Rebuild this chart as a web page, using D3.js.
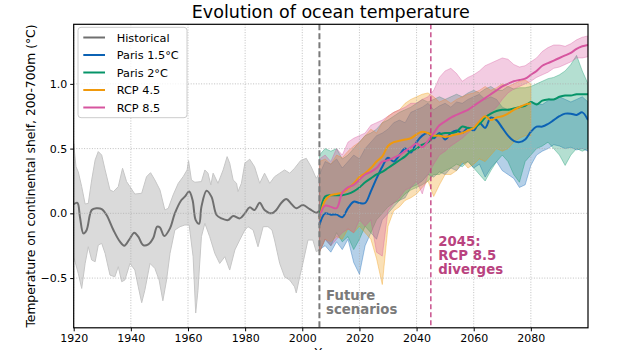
<!DOCTYPE html>
<html>
<head>
<meta charset="utf-8">
<script src="https://cdn.jsdelivr.net/npm/d3@7"></script>
<style>
  body { margin: 0; background: #fff; }
  svg { display: block; font-family: "DejaVu Sans", sans-serif; }
</style>
</head>
<body>
<svg id="svg" width="624" height="350"></svg>
<script>
const $svg = d3.select('#svg')

// historical reconstruction, [year, value]
const histMean = [
	[1920, 0.07], [1921.3, 0.08], [1922.2, -0.03], [1923.4, -0.155], [1924.5, -0.13], [1926.3, 0.026],
	[1928, 0.039], [1929.8, 0.033], [1931.5, -0.013], [1933.9, -0.129], [1936.2, -0.219], [1937.7, -0.25],
	[1939.5, -0.2], [1941.2, -0.149], [1942.6, -0.18], [1944.3, -0.245], [1946.1, -0.24], [1947.8, -0.193],
	[1949.2, -0.103], [1950.2, -0.11], [1951.7, -0.175], [1953.7, -0.116], [1955.4, 0], [1957.7, 0.103],
	[1958.9, 0.129], [1960.4, 0.168], [1961.6, 0.103], [1962.7, -0.052], [1963.9, -0.08], [1964.7, 0.05],
	[1966.5, 0.175], [1968.2, 0.129], [1970, -0.013], [1971.7, -0.039], [1974, -0.052], [1975.8, -0.02],
	[1978.1, -0.039], [1979.9, 0], [1981.6, 0.046], [1983.3, 0.026], [1985.1, 0.082], [1986.8, 0.026],
	[1989.2, 0], [1990.9, 0.026], [1992.7, 0.082], [1994.4, 0.11], [1996.2, 0.072], [1997.9, 0.039],
	[2000.2, 0.064], [2002.6, 0.033], [2004.9, 0.005], [2006, 0.02]
]
const histUpper = [
	[1920, 0.54], [1920.8, 0.36], [1921.6, 0.32], [1922.8, 0.206], [1924, 0.072], [1925.1, 0.077],
	[1926.3, 0.258], [1927.5, 0.412], [1928.6, 0.477], [1929.8, 0.45], [1931, 0.335], [1932.7, 0.18],
	[1933.9, 0.168], [1935.6, 0.206], [1937.1, 0.348], [1938.5, 0.245], [1939.7, 0.206], [1941.4, 0.149],
	[1943.8, 0.155], [1945.5, 0.283], [1946.9, 0.314], [1948.4, 0.258], [1950.2, 0.18], [1951.9, 0.026],
	[1953.1, 0.039], [1954.8, 0.142], [1956.6, 0.232], [1958.3, 0.283], [1959.7, 0.335], [1960.2, 0.407],
	[1961.2, 0.258], [1962.4, 0.24], [1964.7, 0.245], [1965.9, 0.335], [1967, 0.31], [1968, 0.219],
	[1968.8, 0.31], [1970.5, 0.232], [1972.3, 0.335], [1973.7, 0.438], [1974.6, 0.387], [1975.8, 0.258],
	[1977, 0.232], [1977.5, 0.168], [1978.7, 0.232], [1979.9, 0.387], [1981.6, 0.418], [1983.3, 0.36],
	[1985.1, 0.232], [1986.8, 0.31], [1988.6, 0.232], [1990.3, 0.283], [1992.1, 0.31], [1993.8, 0.335],
	[1995.6, 0.31], [1997.3, 0.348], [1999.4, 0.407], [2001.4, 0.425], [2003.1, 0.36], [2004.9, 0.27], [2006, 0.31]
]
const histLower = [
	[1920, -0.335], [1921.6, -0.464], [1922.8, -0.58], [1924, -0.387], [1925.1, -0.258], [1926.3, -0.36],
	[1927.5, -0.374], [1928.6, -0.245], [1929.8, -0.232], [1931, -0.31], [1932.7, -0.477], [1934.4, -0.49],
	[1935.6, -0.412], [1936.8, -0.528], [1937.9, -0.515], [1939.7, -0.387], [1941.4, -0.438], [1942.6, -0.567],
	[1943.8, -0.69], [1944.9, -0.593], [1946.7, -0.387], [1948.4, -0.425], [1949.9, -0.515], [1951.2, -0.675],
	[1952.5, -0.515], [1953.7, -0.31], [1955.4, -0.129], [1957.2, -0.103], [1958.9, -0.09], [1960.4, -0.09],
	[1961.8, -0.335], [1962.7, -0.77], [1963.5, -0.593], [1964.7, -0.18], [1965.9, -0.077], [1967.6, -0.18],
	[1969.4, -0.31], [1971.1, -0.387], [1972.9, -0.335], [1974.6, -0.438], [1976.4, -0.283], [1978.1, -0.206],
	[1979.9, -0.129], [1981, -0.103], [1982.8, -0.129], [1984.5, -0.258], [1986.3, -0.103], [1988, -0.103],
	[1989.4, -0.129], [1990.3, -0.206], [1992.1, -0.387], [1993.8, -0.49], [1995.6, -0.515], [1997.3, -0.567],
	[1997.9, -0.615], [1999.1, -0.49], [2000.2, -0.387], [2002, -0.206], [2003.7, -0.206], [2004.9, -0.296], [2006, -0.283]
]

// scenarios, every 2 years from 2006
const futureYears = d3.range(2006, 2101, 2)

const paris15Mean = [-0.09, 0.0, -0.01, -0.01, -0.03, 0.04, 0.09, 0.08, 0.08, 0.17, 0.27, 0.36, 0.43, 0.40, 0.45, 0.50,
	0.47, 0.55, 0.60, 0.62, 0.58, 0.62, 0.57, 0.62, 0.64, 0.62, 0.66, 0.64, 0.70, 0.66, 0.74, 0.72,
	0.66, 0.60, 0.56, 0.55, 0.57, 0.63, 0.67, 0.67, 0.69, 0.72, 0.75, 0.77, 0.77, 0.76, 0.78, 0.72]
const paris15Low = [-0.28, -0.25, -0.3, -0.22, -0.28, -0.2, -0.38, -0.47, -0.25, -0.15, -0.2, -0.05, 0.0, 0.05, 0.1, 0.12,
	0.2, 0.22, 0.25, 0.3, 0.28, 0.32, 0.3, 0.35, 0.33, 0.38, 0.4, 0.35, 0.38, 0.28, 0.35, 0.4,
	0.33, 0.3, 0.27, 0.2, 0.22, 0.37, 0.45, 0.48, 0.5, 0.53, 0.52, 0.5, 0.51, 0.49, 0.5, 0.48]
const paris15High = [0.3, 0.4, 0.38, 0.42, 0.35, 0.4, 0.45, 0.42, 0.5, 0.55, 0.6, 0.62, 0.65, 0.7, 0.72, 0.7,
	0.78, 0.8, 0.82, 0.85, 0.8, 0.83, 0.85, 0.82, 0.86, 0.85, 0.88, 0.9, 0.92, 0.88, 0.9, 0.88,
	0.82, 0.8, 0.8, 0.82, 0.84, 0.86, 0.85, 0.84, 0.87, 0.88, 0.9, 0.88, 0.86, 0.88, 0.9, 0.86]

const paris2Mean = [-0.03, 0.13, 0.14, 0.14, 0.14, 0.15, 0.17, 0.20, 0.24, 0.27, 0.30, 0.32, 0.35, 0.38, 0.41, 0.44,
	0.48, 0.50, 0.53, 0.55, 0.59, 0.61, 0.62, 0.62, 0.63, 0.67, 0.66, 0.66, 0.69, 0.74, 0.77, 0.79,
	0.80, 0.80, 0.81, 0.82, 0.83, 0.86, 0.84, 0.87, 0.88, 0.88, 0.90, 0.91, 0.91, 0.92, 0.92, 0.92]
const paris2Low = [-0.3, -0.2, -0.25, -0.15, -0.22, -0.18, -0.28, -0.2, -0.1, -0.15, -0.05, 0.0, 0.05, 0.08, 0.1, 0.15,
	0.18, 0.2, 0.22, 0.25, 0.3, 0.3, 0.33, 0.35, 0.38, 0.36, 0.4, 0.35, 0.3, 0.25, 0.33, 0.4,
	0.45, 0.4, 0.3, 0.24, 0.4, 0.45, 0.5, 0.52, 0.55, 0.5, 0.45, 0.37, 0.45, 0.5, 0.48, 0.5]
const paris2High = [0.45, 0.5, 0.48, 0.5, 0.42, 0.45, 0.5, 0.55, 0.6, 0.62, 0.65, 0.7, 0.72, 0.75, 0.78, 0.8,
	0.82, 0.85, 0.88, 0.86, 0.88, 0.9, 0.88, 0.9, 0.92, 0.9, 0.93, 0.95, 0.93, 0.96, 0.98, 0.95,
	0.95, 0.98, 0.96, 0.97, 0.97, 0.98, 1.0, 1.02, 1.04, 1.05, 1.07, 1.1, 1.15, 1.22, 1.1, 1.0]

// RCP 4.5 stops at 2080
const rcp45Mean = [-0.04, 0.10, 0.14, 0.15, 0.16, 0.19, 0.23, 0.28, 0.31, 0.35, 0.40, 0.44, 0.52, 0.55, 0.56, 0.57,
	0.58, 0.61, 0.63, 0.62, 0.60, 0.60, 0.59, 0.60, 0.61, 0.62, 0.64, 0.66, 0.71, 0.75, 0.72, 0.74,
	0.75, 0.77, 0.80, 0.82, 0.84, 0.85]
const rcp45Low = [-0.3, -0.2, -0.22, -0.18, -0.2, -0.12, -0.15, -0.1, -0.15, -0.2, -0.35, -0.55, -0.1, 0.02, 0.05, 0.1,
	0.12, 0.15, 0.2, 0.25, 0.13, 0.22, 0.3, 0.3, 0.33, 0.4, 0.35, 0.38, 0.42, 0.4, 0.45, 0.5,
	0.48, 0.5, 0.55, 0.58, 0.6, 0.6]
const rcp45High = [0.4, 0.42, 0.38, 0.45, 0.43, 0.48, 0.52, 0.55, 0.6, 0.65, 0.62, 0.7, 0.75, 0.78, 0.8, 0.85,
	0.88, 0.9, 0.92, 0.93, 0.9, 0.86, 0.88, 0.85, 0.88, 0.9, 0.92, 0.93, 0.95, 0.98, 0.95, 0.97,
	1.0, 0.98, 1.0, 1.02, 1.03, 1.0]

const rcp85Mean = [-0.03, 0.06, 0.05, 0.04, 0.16, 0.20, 0.22, 0.26, 0.30, 0.32, 0.35, 0.40, 0.41, 0.43, 0.45, 0.48,
	0.51, 0.54, 0.51, 0.56, 0.62, 0.68, 0.71, 0.74, 0.76, 0.78, 0.80, 0.83, 0.86, 0.89, 0.92, 0.95,
	0.98, 1.00, 1.02, 1.03, 1.04, 1.07, 1.10, 1.14, 1.16, 1.18, 1.20, 1.22, 1.24, 1.27, 1.29, 1.30]
const rcp85Low = [-0.3, -0.2, -0.25, -0.2, -0.15, -0.12, -0.15, -0.05, -0.1, -0.05, -0.3, -0.33, 0.02, 0.08, 0.12, 0.18,
	0.2, 0.25, 0.15, 0.3, 0.38, 0.45, 0.48, 0.52, 0.55, 0.58, 0.62, 0.66, 0.7, 0.74, 0.78, 0.82,
	0.88, 0.93, 0.96, 0.98, 1.0, 1.02, 1.05, 1.07, 1.09, 1.12, 1.13, 1.15, 1.17, 1.2, 1.2, 1.21]
const rcp85High = [0.42, 0.45, 0.4, 0.5, 0.45, 0.55, 0.58, 0.6, 0.62, 0.68, 0.7, 0.72, 0.75, 0.78, 0.8, 0.82,
	0.85, 0.85, 0.88, 0.9, 0.95, 1.05, 1.1, 1.12, 1.08, 1.02, 1.05, 1.07, 1.1, 1.14, 1.16, 1.18,
	1.2, 1.19, 1.15, 1.13, 1.14, 1.17, 1.2, 1.25, 1.28, 1.3, 1.3, 1.29, 1.31, 1.34, 1.36, 1.37]

const scenarios = [
	{ name: 'Paris 1.5°C', color: '#0b62b4', mean: paris15Mean, low: paris15Low, high: paris15High },
	{ name: 'Paris 2°C', color: '#069468', mean: paris2Mean, low: paris2Low, high: paris2High },
	{ name: 'RCP 4.5', color: '#f0990c', mean: rcp45Mean, low: rcp45Low, high: rcp45High },
	{ name: 'RCP 8.5', color: '#d6559f', mean: rcp85Mean, low: rcp85Low, high: rcp85High },
]

const xTicks = [1920, 1940, 1960, 1980, 2000, 2020, 2040, 2060, 2080]
const yTicks = [-0.5, 0.0, 0.5, 1.0]

const plotLeft = 73.7, plotRight = 588, plotTop = 24.3, plotBottom = 327.8

const xScale = d3.scaleLinear().domain([1920, 2100]).range([plotLeft, plotRight])
const yScale = d3.scaleLinear().domain([-0.884, 1.46]).range([plotBottom, plotTop])

$svg.append('clipPath').attr('id', 'plot')
	.append('rect').attr('x', plotLeft).attr('y', plotTop)
	.attr('width', plotRight - plotLeft).attr('height', plotBottom - plotTop)

const $plot = $svg.append('g').attr('clip-path', 'url(#plot)')

const bandPath = (upper, lower) => {
	const pts = upper.concat(lower.slice().reverse())
	return d3.line().x(d => xScale(d[0])).y(d => yScale(d[1]))(pts) + 'Z'
}

const meanLine = d3.line()
	.x(d => xScale(d[0]))
	.y(d => yScale(d[1]))
	.curve(d3.curveCatmullRom.alpha(0.5))

const pair = values => values.map((v, i) => [futureYears[i], v])

// historical band
$plot.append('path')
	.attr('d', bandPath(histUpper, histLower))
	.attr('fill', '#dadada')
	.attr('stroke', '#c6c6c6')
	.attr('stroke-width', 1)

// scenario bands
scenarios.forEach(s => {
	$plot.append('path')
		.attr('d', bandPath(pair(s.high), pair(s.low)))
		.attr('fill', s.color)
		.attr('fill-opacity', 0.3)
		.attr('stroke', s.color)
		.attr('stroke-opacity', 0.35)
		.attr('stroke-width', 1)
})

// grid
const $grid = $svg.append('g')
xTicks.forEach(t => {
	$grid.append('line')
		.attr('x1', xScale(t)).attr('x2', xScale(t)).attr('y1', plotTop).attr('y2', plotBottom)
		.attr('stroke', '#b0b0b0').attr('stroke-width', 0.8).attr('stroke-dasharray', '1,1.6')
})
yTicks.forEach(t => {
	$grid.append('line')
		.attr('x1', plotLeft).attr('x2', plotRight).attr('y1', yScale(t)).attr('y2', yScale(t))
		.attr('stroke', '#b0b0b0').attr('stroke-width', 0.8).attr('stroke-dasharray', '1,1.6')
})

// lines
$plot.append('path')
	.attr('d', meanLine(histMean))
	.attr('fill', 'none')
	.attr('stroke', '#6f6f6f')
	.attr('stroke-width', 2)

scenarios.forEach(s => {
	$plot.append('path')
		.attr('d', meanLine(pair(s.mean)))
		.attr('fill', 'none')
		.attr('stroke', s.color)
		.attr('stroke-width', 2)
})

// event lines
$svg.append('line')
	.attr('x1', xScale(2006)).attr('x2', xScale(2006)).attr('y1', plotTop).attr('y2', plotBottom)
	.attr('stroke', '#7a7a7a').attr('stroke-width', 2).attr('stroke-dasharray', '6,3')
$svg.append('line')
	.attr('x1', xScale(2045)).attr('x2', xScale(2045)).attr('y1', plotTop).attr('y2', plotBottom)
	.attr('stroke', '#c0377c').attr('stroke-width', 1.3).attr('stroke-dasharray', '5,3')

const note = (x, y, lines, color) => {
	const t = $svg.append('text')
		.attr('x', x).attr('y', y)
		.attr('fill', color)
		.attr('font-size', 13.3)
		.attr('font-weight', 'bold')
	lines.forEach((line, i) => {
		t.append('tspan').attr('x', x).attr('dy', i === 0 ? 0 : 14.2).text(line)
	})
}
note(326, 299.5, ['Future', 'scenarios'], '#7a7a7a')
note(438.3, 245.7, ['2045:', 'RCP 8.5', 'diverges'], '#b9437f')

// axes
const $xAxis = $svg.append('g').attr('transform', `translate(0,${plotBottom})`)
	.call(d3.axisBottom(xScale).tickValues(xTicks).tickFormat(d3.format('d')).tickSize(3.5).tickPadding(3))
const $yAxis = $svg.append('g').attr('transform', `translate(${plotLeft},0)`)
	.call(d3.axisLeft(yScale).tickValues(yTicks).tickFormat(d => d3.format('.1f')(d).replace('-', '\u2212')).tickSize(3.5).tickPadding(3))

;[$xAxis, $yAxis].forEach(a => {
	a.select('.domain').remove()
	a.selectAll('text').attr('font-size', 11).attr('fill', '#000').attr('font-family', '"DejaVu Sans", sans-serif')
	a.selectAll('line').attr('stroke', '#000').attr('stroke-width', 1)
})

$svg.append('rect')
	.attr('x', plotLeft).attr('y', plotTop).attr('width', plotRight - plotLeft).attr('height', plotBottom - plotTop)
	.attr('fill', 'none').attr('stroke', '#000').attr('stroke-width', 1.2)

// labels
$svg.append('text')
	.attr('x', (plotLeft + plotRight) / 2).attr('y', 18)
	.attr('text-anchor', 'middle')
	.attr('font-size', 17.5)
	.text('Evolution of ocean temperature')

$svg.append('text')
	.attr('transform', `translate(35,${(plotTop + plotBottom) / 2}) rotate(-90)`)
	.attr('text-anchor', 'middle')
	.attr('font-size', 12.3)
	.text('Temperature on continental shelf, 200-700m (°C)')

$svg.append('text')
	.attr('x', (plotLeft + plotRight) / 2).attr('y', 357)
	.attr('text-anchor', 'middle')
	.attr('font-size', 12.3)
	.text('Years')

// legend
const legendItems = [{ name: 'Historical', color: '#6f6f6f' }].concat(scenarios)
const $legend = $svg.append('g')
$legend.append('rect')
	.attr('x', 78).attr('y', 27.3).attr('width', 109).attr('height', 90.4).attr('rx', 3)
	.attr('fill', '#fff').attr('fill-opacity', 0.8).attr('stroke', '#cccccc').attr('stroke-width', 1)
legendItems.forEach((item, i) => {
	const cy = 37.5 + i * 17.5
	$legend.append('line')
		.attr('x1', 83.3).attr('x2', 105).attr('y1', cy).attr('y2', cy)
		.attr('stroke', item.color).attr('stroke-width', 2)
	$legend.append('text')
		.attr('x', 116.7).attr('y', cy + 4)
		.attr('font-size', 11.3)
		.text(item.name)
})
</script>
</body>
</html>
